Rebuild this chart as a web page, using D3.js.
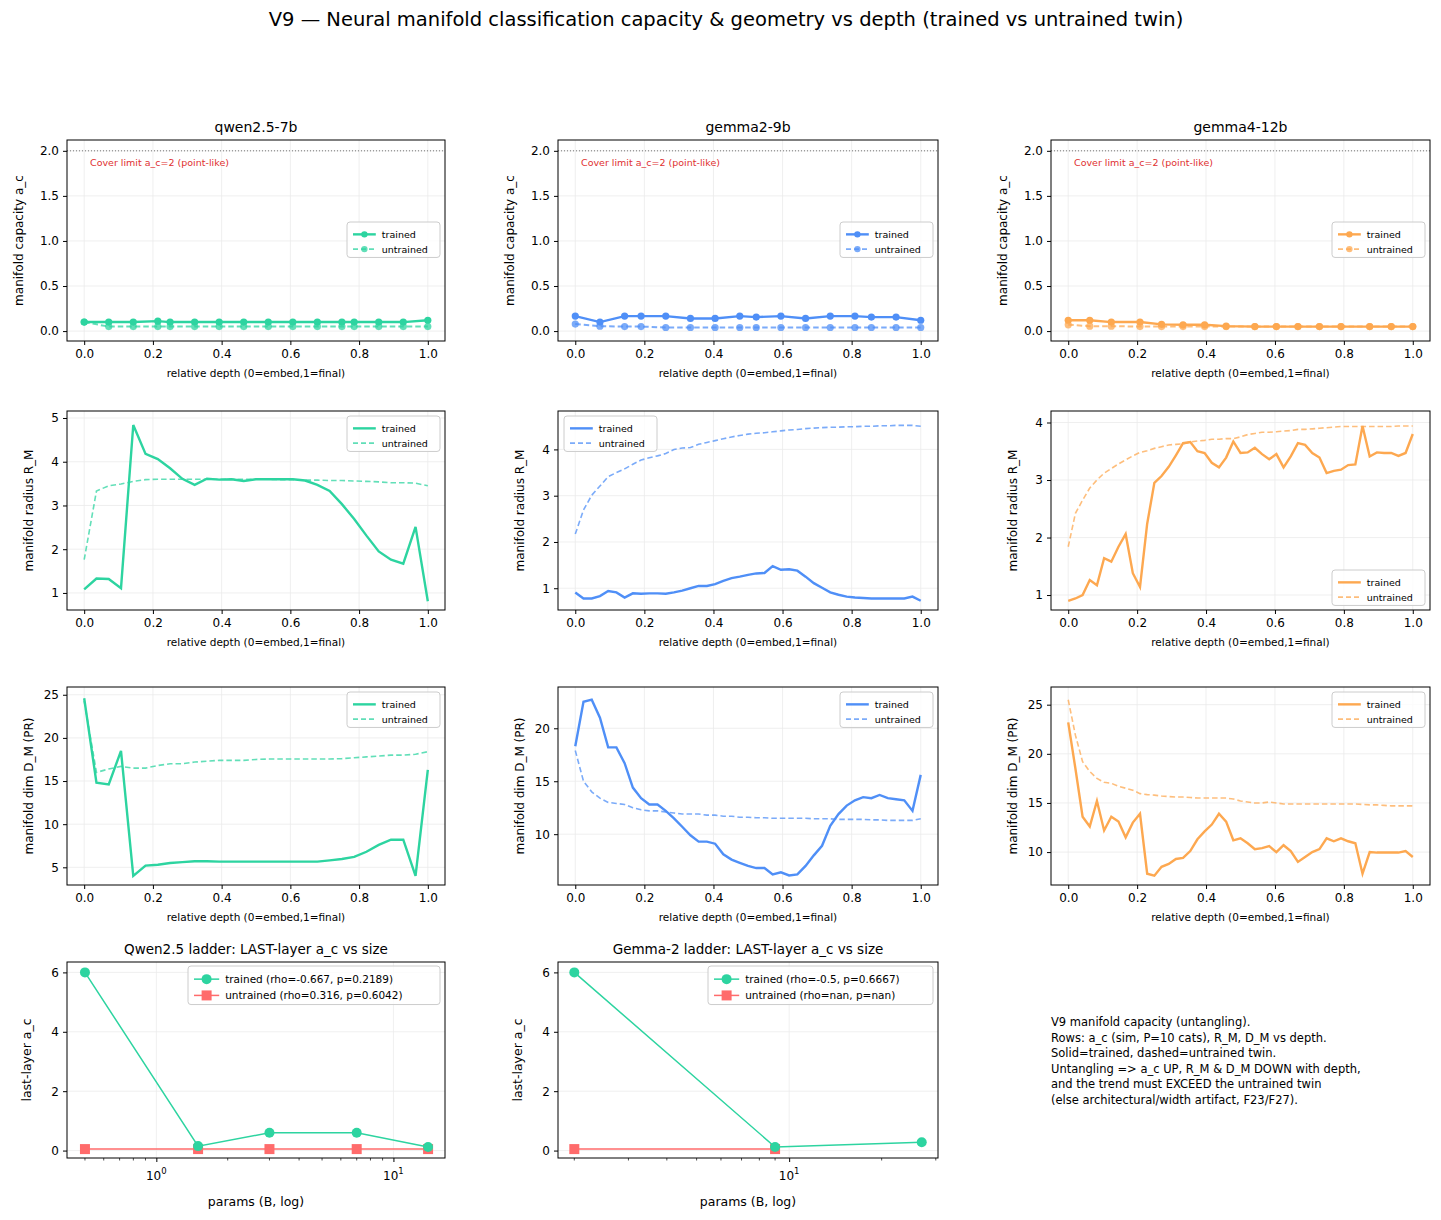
<!DOCTYPE html>
<html><head><meta charset="utf-8">
<script src="https://cdn.jsdelivr.net/npm/d3@7/dist/d3.min.js"></script>
<style>body{margin:0;background:#fff}svg{font-family:"DejaVu Sans",sans-serif}</style>
</head><body><svg id="c" width="1441" height="1220"></svg>
<script>
const models = ["qwen2.5-7b","gemma2-9b","gemma4-12b"];
const nLayers = [28,42,48];
const acLayers = [
 [0,2,4,6,7,9,11,13,15,17,19,21,22,24,26,28],
 [0,3,6,8,11,14,17,20,22,25,28,31,34,36,39,42],
 [0,3,6,10,13,16,19,22,26,29,32,35,38,42,45,48]];
const acTrained = [
 [0.10,0.10,0.10,0.11,0.10,0.10,0.10,0.10,0.10,0.10,0.10,0.10,0.10,0.10,0.10,0.12],
 [0.166,0.10,0.166,0.166,0.166,0.14,0.14,0.166,0.155,0.166,0.14,0.166,0.166,0.155,0.155,0.12],
 [0.12,0.12,0.10,0.10,0.075,0.07,0.07,0.055,0.05,0.05,0.05,0.05,0.05,0.05,0.05,0.05]];
const acUntrained = [
 [0.10,0.05,0.05,0.05,0.05,0.05,0.05,0.05,0.05,0.05,0.05,0.05,0.05,0.05,0.05,0.05],
 [0.078,0.055,0.05,0.05,0.04,0.04,0.04,0.04,0.04,0.04,0.04,0.04,0.04,0.04,0.04,0.04],
 [0.07,0.055,0.055,0.05,0.05,0.05,0.05,0.05,0.05,0.05,0.05,0.05,0.05,0.05,0.05,0.05]];
const rmTrained = [
 [1.08,1.33,1.32,1.11,4.84,4.18,4.06,3.85,3.61,3.47,3.61,3.59,3.60,3.56,3.60,3.60,3.60,3.60,3.57,3.47,3.33,3.03,2.69,2.31,1.95,1.76,1.67,2.51,0.81],
 [0.91,0.78,0.78,0.83,0.94,0.91,0.80,0.89,0.88,0.89,0.89,0.88,0.91,0.95,1.0,1.05,1.05,1.09,1.16,1.22,1.25,1.29,1.32,1.33,1.48,1.40,1.41,1.38,1.25,1.11,1.01,0.91,0.86,0.82,0.80,0.79,0.78,0.78,0.78,0.78,0.78,0.82,0.73],
 [0.90,0.94,1.0,1.26,1.17,1.64,1.58,1.84,2.06,1.38,1.14,2.24,2.95,3.07,3.23,3.43,3.64,3.66,3.50,3.47,3.30,3.22,3.39,3.67,3.47,3.48,3.56,3.45,3.36,3.45,3.22,3.41,3.64,3.61,3.47,3.39,3.12,3.16,3.18,3.26,3.27,3.94,3.41,3.48,3.47,3.47,3.42,3.47,3.80]];
const rmUntrained = [
 [1.76,3.33,3.45,3.49,3.55,3.59,3.60,3.60,3.60,3.60,3.60,3.60,3.60,3.60,3.60,3.60,3.59,3.59,3.58,3.58,3.57,3.57,3.56,3.55,3.54,3.52,3.52,3.51,3.45],
 [2.17,2.69,3.01,3.21,3.41,3.50,3.58,3.68,3.77,3.82,3.86,3.91,4.0,4.03,4.04,4.11,4.15,4.19,4.23,4.27,4.30,4.33,4.35,4.36,4.38,4.40,4.42,4.43,4.45,4.46,4.47,4.48,4.48,4.49,4.49,4.50,4.50,4.51,4.51,4.52,4.52,4.52,4.50],
 [1.84,2.42,2.65,2.86,3.0,3.12,3.20,3.28,3.35,3.42,3.48,3.51,3.55,3.58,3.61,3.62,3.63,3.66,3.68,3.69,3.71,3.71,3.72,3.72,3.75,3.79,3.81,3.83,3.83,3.84,3.85,3.86,3.88,3.88,3.89,3.90,3.91,3.92,3.93,3.93,3.93,3.93,3.93,3.93,3.93,3.93,3.94,3.94,3.94]];
const dmTrained = [
 [24.6,14.8,14.6,18.5,4.0,5.2,5.3,5.5,5.6,5.7,5.7,5.66,5.66,5.66,5.66,5.66,5.66,5.66,5.66,5.66,5.8,5.97,6.2,6.8,7.6,8.2,8.2,4.0,16.3],
 [18.3,22.5,22.7,21.0,18.2,18.2,16.7,14.4,13.4,12.8,12.8,12.2,11.5,10.7,9.9,9.3,9.3,9.1,8.1,7.6,7.3,7.0,6.8,6.8,6.2,6.4,6.1,6.2,7.0,8.0,8.9,10.8,11.9,12.7,13.2,13.5,13.4,13.7,13.4,13.3,13.2,12.2,15.6],
 [23.2,18.5,13.6,12.6,15.2,12.2,13.6,13.1,11.5,13.0,13.9,7.8,7.6,8.5,8.8,9.3,9.4,10.1,11.3,12.1,12.8,13.9,13.1,11.2,11.4,10.9,10.3,10.4,10.6,10.0,10.7,10.1,9.0,9.5,10.0,10.3,11.4,11.1,11.4,11.1,10.9,7.8,10.0,9.95,9.95,9.95,9.95,10.1,9.5]];
const dmUntrained = [
 [24.3,16.0,16.4,16.7,16.5,16.5,16.8,17.0,17.0,17.2,17.3,17.4,17.4,17.4,17.5,17.55,17.55,17.55,17.55,17.55,17.55,17.6,17.7,17.8,17.9,18.0,18.0,18.1,18.4],
 [17.9,15.0,14.0,13.4,13.0,12.9,12.8,12.5,12.3,12.2,12.2,12.1,12.0,11.9,11.9,11.9,11.8,11.8,11.7,11.7,11.6,11.6,11.55,11.55,11.5,11.5,11.5,11.5,11.5,11.45,11.45,11.45,11.4,11.4,11.4,11.4,11.35,11.35,11.3,11.3,11.3,11.3,11.45],
 [25.5,21.9,19.2,18.2,17.5,17.1,17.0,16.7,16.5,16.3,15.95,15.85,15.8,15.7,15.65,15.6,15.6,15.55,15.5,15.5,15.5,15.5,15.5,15.4,15.2,15.1,15.0,15.0,15.1,15.0,14.9,14.9,14.9,14.9,14.9,14.9,14.9,14.9,14.9,14.9,14.9,14.85,14.8,14.8,14.75,14.7,14.7,14.7,14.7]];
const qwenParams = [0.5,1.5,3,7,14];
const qwenTrained = [6.0,0.15,0.6,0.6,0.12];
const qwenUntrained = [0.05,0.05,0.05,0.05,0.05];
const gemmaParams = [2,9,27];
const gemmaTrained = [6.0,0.12,0.28];
const gemmaUntrainedParams = [2,9];
const gemmaUntrained = [0.05,0.05];
const ladderLegends = [["trained (rho=-0.667, p=0.2189)","untrained (rho=0.316, p=0.6042)"],
                       ["trained (rho=-0.5, p=0.6667)","untrained (rho=nan, p=nan)"]];
const colors = ["#2dd4a0","#4f8ff7","#fda850"];
const ladderTrainedColor = "#2dd4a0", ladderUntrainedColor = "#ff6b6b";
const noteLines = ["V9 manifold capacity (untangling).","Rows: a_c (sim, P=10 cats), R_M, D_M vs depth.","Solid=trained, dashed=untrained twin.","Untangling => a_c UP, R_M & D_M DOWN with depth,","and the trend must EXCEED the untrained twin","(else architectural/width artifact, F23/F27)."];

const svg = d3.select("#c");
svg.append("text").attr("x",726).attr("y",26).attr("text-anchor","middle").attr("font-size",19.5)
  .text("V9 — Neural manifold classification capacity & geometry vs depth (trained vs untrained twin)");

const colX = [[67,445],[558,938],[1051,1430]];
const rowY = [[140,341],[411,610],[687,885],[962,1158]];
const yDom = [
 [[-0.11,2.12],[-0.11,2.12],[-0.11,2.12]],
 [[0.61,5.16],[0.53,4.83],[0.74,4.2]],
 [[2.95,25.9],[5.2,23.9],[6.65,26.8]]];
const yTicks = [[[0,0.5,1,1.5,2],[0,0.5,1,1.5,2],[0,0.5,1,1.5,2]],
 [[1,2,3,4,5],[1,2,3,4],[1,2,3,4]],
 [[5,10,15,20,25],[10,15,20],[10,15,20,25]]];
const yLabels = ["manifold capacity a_c","manifold radius R_M","manifold dim D_M (PR)"];

function frame(g,x,y,xt,yt,w,h){
  g.append("g").selectAll("line").data(xt).join("line").attr("x1",d=>x(d)).attr("x2",d=>x(d))
    .attr("y1",0).attr("y2",h).attr("stroke","#ebebeb").attr("stroke-width",0.8);
  g.append("g").selectAll("line").data(yt).join("line").attr("y1",d=>y(d)).attr("y2",d=>y(d))
    .attr("x1",0).attr("x2",w).attr("stroke","#ebebeb").attr("stroke-width",0.8);
}
function axes(g,x,y,xa,ya,w,h){
  const gx=g.append("g").attr("transform",`translate(0,${h})`).call(xa);
  const gy=g.append("g").call(ya);
  [gx,gy].forEach(a=>{a.select(".domain").remove();a.selectAll("text").attr("font-size",12).attr("fill","#000").attr("font-family","DejaVu Sans");a.selectAll("line").attr("stroke","#000");});
  g.append("rect").attr("width",w).attr("height",h).attr("fill","none").attr("stroke","#000").attr("stroke-width",1);
  return gx;
}
function legend(g,x0,y0,w,items,fs){
  const lh=fs*1.55;
  g.append("rect").attr("x",x0).attr("y",y0).attr("width",w).attr("height",items.length*lh+6).attr("rx",3)
    .attr("fill","#fff").attr("fill-opacity",0.8).attr("stroke","#ccc");
  items.forEach((it,i)=>{
    const cy=y0+5+lh*i+lh/2;
    g.append("line").attr("x1",x0+6).attr("x2",x0+6+fs*2.4).attr("y1",cy).attr("y2",cy).attr("stroke",it.color)
      .attr("stroke-width",it.sw).attr("stroke-dasharray",it.dash||null).attr("opacity",it.op||1);
    if(it.marker==="circle") g.append("circle").attr("cx",x0+6+fs*1.2).attr("cy",cy).attr("r",it.r).attr("fill",it.color).attr("opacity",it.op||1);
    if(it.marker==="square") g.append("rect").attr("x",x0+6+fs*1.2-it.r).attr("y",cy-it.r).attr("width",2*it.r).attr("height",2*it.r).attr("fill",it.color);
    g.append("text").attr("x",x0+12+fs*2.4).attr("y",cy+fs*0.36).attr("font-size",fs).text(it.label);
  });
}

for(let r=0;r<3;r++) for(let c=0;c<3;c++){
  const [x0,x1]=colX[c],[y0,y1]=rowY[r],w=x1-x0,h=y1-y0;
  const g=svg.append("g").attr("transform",`translate(${x0},${y0})`);
  const x=d3.scaleLinear().domain([-0.05,1.05]).range([0,w]);
  const y=d3.scaleLinear().domain(yDom[r][c]).range([h,0]);
  const xt=[0,0.2,0.4,0.6,0.8,1.0];
  frame(g,x,y,xt,yTicks[r][c],w,h);
  const col=colors[c];
  let tr,un,xs;
  if(r===0){xs=acLayers[c].map(l=>l/nLayers[c]);tr=acTrained[c];un=acUntrained[c];}
  else { const arrT=r===1?rmTrained[c]:dmTrained[c]; xs=arrT.map((_,i)=>i/nLayers[c]); tr=arrT; un=r===1?rmUntrained[c]:dmUntrained[c]; }
  const line=d3.line().x((d,i)=>x(xs[i])).y(d=>y(d));
  if(r===0){
    g.append("line").attr("x1",0).attr("x2",w).attr("y1",y(2)).attr("y2",y(2)).attr("stroke","#555").attr("stroke-width",0.8).attr("stroke-dasharray","1,2");
    g.append("text").attr("x",23).attr("y",y(2)+15).attr("font-size",9.5).attr("fill","#e03030").text("Cover limit a_c=2 (point-like)");
  }
  g.append("path").attr("d",line(un)).attr("fill","none").attr("stroke",col).attr("stroke-width",r===0?2:1.6).attr("stroke-dasharray","5.5,3").attr("opacity",0.75);
  g.append("path").attr("d",line(tr)).attr("fill","none").attr("stroke",col).attr("stroke-width",2.4);
  if(r===0){
    g.append("g").selectAll("circle").data(un).join("circle").attr("cx",(d,i)=>x(xs[i])).attr("cy",d=>y(d)).attr("r",3.6).attr("fill",col).attr("opacity",0.75);
    g.append("g").selectAll("circle").data(tr).join("circle").attr("cx",(d,i)=>x(xs[i])).attr("cy",d=>y(d)).attr("r",3.6).attr("fill",col);
  }
  axes(g,x,y,d3.axisBottom(x).tickValues(xt).tickFormat(d3.format(".1f")).tickSize(4).tickPadding(4),
       d3.axisLeft(y).tickValues(yTicks[r][c]).tickFormat(r===0?d3.format(".1f"):d3.format("d")).tickSize(4).tickPadding(4),w,h);
  g.append("text").attr("x",w/2).attr("y",h+36).attr("text-anchor","middle").attr("font-size",10.5).text("relative depth (0=embed,1=final)");
  g.append("text").attr("transform",`translate(${r===0?-44:-34},${h/2}) rotate(-90)`).attr("text-anchor","middle").attr("font-size",12).text(yLabels[r]);
  if(r===0) g.append("text").attr("x",w/2).attr("y",-8).attr("text-anchor","middle").attr("font-size",14).text(models[c]);
  const items=[{label:"trained",color:col,sw:2.4,marker:r===0?"circle":null,r:3.2},{label:"untrained",color:col,sw:1.6,dash:"5,3",op:0.75,marker:r===0?"circle":null,r:3.2}];
  let lx=w-98,ly=r===0?82:5;
  if(r===1&&c===1){lx=6;}
  if(r===1&&c===2){ly=h-40;}
  legend(g,lx,ly,93,items,9.5);
}

const ladders=[
 {title:"Qwen2.5 ladder: LAST-layer a_c vs size",px:qwenParams,tr:qwenTrained,upx:qwenParams,un:qwenUntrained,dom:[0.42,16.5],tv:[1,10]},
 {title:"Gemma-2 ladder: LAST-layer a_c vs size",px:gemmaParams,tr:gemmaTrained,upx:gemmaUntrainedParams,un:gemmaUntrained,dom:[1.77,30.5],tv:[10]}];
ladders.forEach((L,c)=>{
  const [x0,x1]=colX[c],[y0,y1]=rowY[3],w=x1-x0,h=y1-y0;
  const g=svg.append("g").attr("transform",`translate(${x0},${y0})`);
  const x=d3.scaleLog().domain(L.dom).range([0,w]);
  const y=d3.scaleLinear().domain([-0.25,6.35]).range([h,0]);
  const yt=[0,2,4,6];
  frame(g,x,y,L.tv,yt,w,h);
  const minor=[];for(let e=-1;e<=1;e++)for(let k=2;k<=9;k++){const v=k*Math.pow(10,e);if(v>L.dom[0]&&v<L.dom[1])minor.push(v);}
  g.append("g").selectAll("line").data(minor).join("line").attr("x1",d=>x(d)).attr("x2",d=>x(d)).attr("y1",h).attr("y2",h+2.5).attr("stroke","#000").attr("stroke-width",0.7);
  const lt=d3.line().x((d,i)=>x(L.px[i])).y(d=>y(d));
  const lu=d3.line().x((d,i)=>x(L.upx[i])).y(d=>y(d));
  g.append("path").attr("d",lu(L.un)).attr("fill","none").attr("stroke",ladderUntrainedColor).attr("stroke-width",1.5);
  g.append("g").selectAll("rect").data(L.un).join("rect").attr("x",(d,i)=>x(L.upx[i])-5).attr("y",d=>y(d)-5).attr("width",10).attr("height",10).attr("fill",ladderUntrainedColor);
  g.append("path").attr("d",lt(L.tr)).attr("fill","none").attr("stroke",ladderTrainedColor).attr("stroke-width",1.5);
  g.append("g").selectAll("circle").data(L.tr).join("circle").attr("cx",(d,i)=>x(L.px[i])).attr("cy",d=>y(d)).attr("r",5).attr("fill",ladderTrainedColor);
  const gx=axes(g,x,y,d3.axisBottom(x).tickValues(L.tv).tickFormat("").tickSize(4).tickPadding(4),
       d3.axisLeft(y).tickValues(yt).tickFormat(d3.format("d")).tickSize(4).tickPadding(4),w,h);
  L.tv.forEach(v=>{
    const t=g.append("text").attr("x",x(v)).attr("y",h+22).attr("text-anchor","middle").attr("font-size",12);
    t.append("tspan").text("10");
    t.append("tspan").attr("dy",-6).attr("font-size",8.5).text(String(Math.round(Math.log10(v))));
  });
  g.append("text").attr("x",w/2).attr("y",h+48).attr("text-anchor","middle").attr("font-size",12.5).text("params (B, log)");
  g.append("text").attr("transform",`translate(-36,${h/2}) rotate(-90)`).attr("text-anchor","middle").attr("font-size",12.5).text("last-layer a_c");
  g.append("text").attr("x",w/2).attr("y",-8).attr("text-anchor","middle").attr("font-size",13.5).text(L.title);
  const lw=c===0?252:225;
  legend(g,w-lw-5,4,lw,[{label:ladderLegends[c][0],color:ladderTrainedColor,sw:1.5,marker:"circle",r:5},{label:ladderLegends[c][1],color:ladderUntrainedColor,sw:1.5,marker:"square",r:5}],10.5);
});
const nt=svg.append("text").attr("x",1051).attr("y",1026).attr("font-size",11.5);
noteLines.forEach((l,i)=>nt.append("tspan").attr("x",1051).attr("dy",i?15.5:0).text(l));
</script></body></html>
